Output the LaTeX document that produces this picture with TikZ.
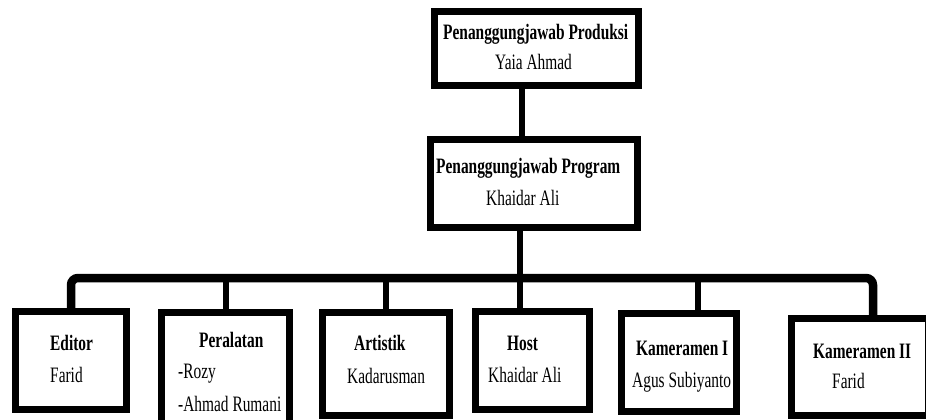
\documentclass[tikz,border=0pt]{standalone}
\usepackage{fontspec}
\newfontfamily\orgfont[FakeStretch=0.70]{Liberation Serif}
\newcommand{\orgtext}{\orgfont\fontsize{22pt}{25pt}\selectfont}
\usetikzlibrary{calc}

\begin{document}
\begin{tikzpicture}[x = 1pt, y = -1pt]
	\tikzstyle{boxStyle} = [shape = rectangle, draw, line width = 7pt, inner sep = 0pt]
	\tikzstyle{headStyle} = [anchor = base west, inner sep = 0pt, font = \orgtext\bfseries]
	\tikzstyle{nameStyle} = [anchor = base west, inner sep = 0pt, font = \orgtext]
	\tikzstyle{linkStyle} = [line width = 6pt]
	\tikzstyle{busStyle} = [line width = 8.5pt, rounded corners = 7pt]
	\clip (0,0) rectangle (926,420);
	% boxes
	\node[boxStyle, minimum width = 204pt, minimum height = 73pt] (prod) at (536.5, 48.5) {};
	\node[boxStyle, minimum width = 207pt, minimum height = 88pt] (prog) at (534, 183) {};
	\node[boxStyle, minimum width = 111pt, minimum height = 98pt] (ed) at (71, 360.5) {};
	\node[boxStyle, minimum width = 128pt, minimum height = 127pt] (alat) at (225.5, 376) {};
	\node[boxStyle, minimum width = 127pt, minimum height = 103pt] (art) at (386, 364) {};
	\node[boxStyle, minimum width = 114pt, minimum height = 98pt] (host) at (532.5, 360.5) {};
	\node[boxStyle, minimum width = 115pt, minimum height = 98pt] (kam1) at (679, 362.5) {};
	\node[boxStyle, minimum width = 136.5pt, minimum height = 97pt] (kam2) at (859.75, 367) {};
	% texts
	\node[headStyle] (prod-h) at (443, 40) {Penanggungjawab Produksi};
	\node[nameStyle] (prod-n) at (495, 70) {Yaia Ahmad};
	\node[headStyle] (prog-h) at (436, 173) {Penanggungjawab Program};
	\node[nameStyle] (prog-n) at (486, 205) {Khaidar Ali};
	\node[headStyle] (ed-h) at (50, 350) {Editor};
	\node[nameStyle] (ed-n) at (50, 382) {Farid};
	\node[headStyle] (alat-h) at (199, 347) {Peralatan};
	\node[nameStyle] (alat-n1) at (178, 378) {-Rozy};
	\node[nameStyle] (alat-n2) at (178, 411) {-Ahmad Rumani};
	\node[headStyle] (art-h) at (354, 350) {Artistik};
	\node[nameStyle] (art-n) at (347, 383) {Kadarusman};
	\node[headStyle] (host-h) at (507, 350) {Host};
	\node[nameStyle] (host-n) at (488, 382) {Khaidar Ali};
	\node[headStyle] (kam1-h) at (636, 355) {Kameramen I};
	\node[nameStyle] (kam1-n) at (632, 387) {Agus Subiyanto};
	\node[headStyle] (kam2-h) at (813, 358) {Kameramen II};
	\node[nameStyle] (kam2-n) at (832, 388) {Farid};
	% lines
	\coordinate (t-drop) at (522, 0);
	\coordinate (b-host) at (520, 278);
	\coordinate (b-kam1) at (698, 278);
	\coordinate (b-east) at (873, 278);
	\draw[linkStyle] (prod.south -| t-drop) -- (prog.north -| t-drop);
	\draw[linkStyle] (prog.south -| b-host) -- (host.north -| b-host);
	\draw[busStyle] (ed.north) |- (b-east) -- (kam2.north -| b-east);
	\draw[linkStyle] (alat.north) -- (alat.north |- b-host);
	\draw[linkStyle] (art.north) -- (art.north |- b-host);
	\draw[linkStyle] (kam1.north -| b-kam1) -- (b-kam1);
\end{tikzpicture}
\end{document}
